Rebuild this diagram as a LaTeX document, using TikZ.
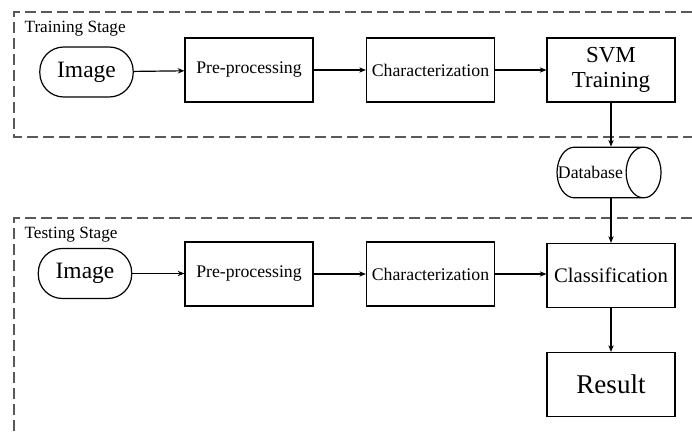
\documentclass[tikz,border=0pt]{standalone}
\usepackage{fontspec}
\setmainfont{Liberation Serif}
\usetikzlibrary{arrows.meta,shapes.geometric}
\begin{document}
\begin{tikzpicture}[x=0.75pt, y=-0.75pt,
  every node/.style={font=\fontsize{13.3}{15}\selectfont, inner sep=1pt},
  stepbox/.style={draw, line width=0.9pt, minimum width=96pt, minimum height=48pt},
  bigtext/.style={font=\fontsize{17.2}{19}\selectfont},
  pill/.style={draw, line width=0.9pt, rounded corners=18pt, minimum width=70pt, minimum height=37.5pt, font=\fontsize{17.6}{19}\selectfont},
  stage/.style={draw=black!65, line width=1.3pt, dash pattern=on 8pt off 4pt},
  flow/.style={-{Stealth[length=5pt,width=4pt]}, line width=0.9pt}]
  \useasboundingbox (0,0) rectangle (692,432);
  % stage frames
  \draw[stage] (692,12) -- (14,12) -- (14,137) -- (692,137);
  \draw[stage] (692,218) -- (14,218) -- (14,432);
  \node[anchor=base west, font=\fontsize{12.9}{14}\selectfont] (trainlbl) at (23,32) {Training Stage};
  \node[anchor=base west, font=\fontsize{12.9}{14}\selectfont] (testlbl) at (23,238) {Testing Stage};
  % training
  \node[pill] (img1) at (86.5,72) {Image};
  \node[stepbox] (pre1) at (249,70) {Pre-processing};
  \node[stepbox] (char1) at (430.5,70) {Characterization};
  \node[stepbox, bigtext, align=center] (svm) at (611,70) {SVM\\Training};
  % database
  \node[cylinder, draw, line width=0.9pt, shape aspect=2.8, minimum height=78pt, minimum width=38pt, inner xsep=0pt, inner ysep=0pt] (db) at (600,172.5) {\makebox[0pt]{Database\hspace{14.3pt}}};
  % testing
  \node[pill] (img2) at (85,273.5) {Image};
  \node[stepbox] (pre2) at (249,274) {Pre-processing};
  \node[stepbox] (char2) at (430.5,274) {Characterization};
  \node[stepbox, font=\fontsize{15.5}{17}\selectfont] (cls) at (611,275.5) {Classification};
  \node[stepbox, font=\fontsize{20.3}{22}\selectfont] (res) at (611,384.5) {Result};
  \draw[flow] (img1) -- (pre1);
  \draw[flow] (pre1) -- (char1);
  \draw[flow] (char1) -- (svm);
  \draw[flow] (svm.south) -- (svm.south |- db.north);
  \draw[flow] (svm.south |- db.south) -- (cls.north);
  \draw[flow] (img2.east) -- (img2.east -| pre2.west);
  \draw[flow] (pre2) -- (char2);
  \draw[flow] (char2.east) -- (char2.east -| cls.west);
  \draw[flow] (cls) -- (res);
\end{tikzpicture}
\end{document}
